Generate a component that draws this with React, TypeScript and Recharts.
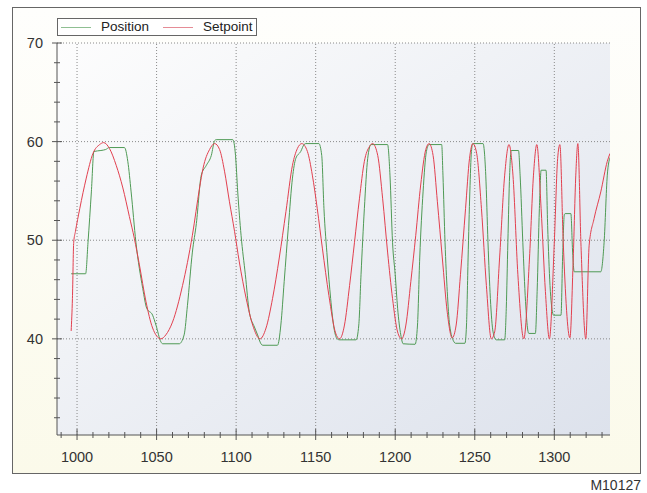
import { LineChart, Line, XAxis, YAxis, ReferenceLine, ReferenceArea } from "recharts";

// Setpoint (red)
const setpointTime = [
  996.3, 997.1, 997.9, 999, 1001.7, 1005.8, 1010, 1014.2, 1016.7, 1020.4, 1024.6, 1028.8, 1032.9, 1036,
  1039.2, 1043.3, 1047.5, 1052.7, 1055.8, 1060, 1066.3, 1072.5, 1077, 1079.2, 1083.3, 1086.5, 1089.6,
  1092.7, 1095.8, 1099, 1102, 1106.3, 1110.4, 1115, 1118.8, 1122.9, 1127.1, 1131.3, 1135.4, 1138.5,
  1141.3, 1144.8, 1147.9, 1151, 1154.2, 1158.3, 1162.5, 1165, 1168.1, 1171.3, 1174.4, 1177.5, 1180.6,
  1183.8, 1185.8, 1189, 1192.1, 1195.2, 1198.3, 1201.5, 1204, 1206.7, 1209.8, 1212.9, 1216, 1219.2,
  1221.3, 1223.8, 1226.5, 1229.6, 1232.7, 1235.8, 1238.3, 1241, 1244.2, 1246.7, 1248.8, 1251.2, 1254.2,
  1257.3, 1260.4, 1262.5, 1265.6, 1268.8, 1271.5, 1274, 1277.1, 1280.8, 1284.4, 1286.9, 1289, 1291.7,
  1294.4, 1296.9, 1300, 1302.1, 1303.5, 1305.6, 1309.8, 1311.9, 1313.5, 1314.8, 1316.7, 1319.8, 1321.9,
  1325, 1329.2, 1333.3, 1335,
];
const setpointValue = [
  40.8, 44.1, 49.8, 50.9, 53.2, 56.3, 58.8, 59.7, 59.9, 59.3, 57.6, 55.3, 52.4, 50.2,
  47.5, 43.8, 41.1, 40.0, 40.4, 41.7, 45.4, 50.5, 55.3, 57.3, 59.2, 59.8, 59.2,
  57.0, 53.9, 50.9, 47.8, 44.1, 41.4, 40.0, 41.1, 44.1, 48.2, 52.9, 57.6, 59.3,
  59.8, 59.0, 56.6, 53.2, 49.2, 44.4, 40.6, 40.0, 41.4, 45.4, 49.8, 54.2, 58.0,
  59.5, 59.8, 58.6, 54.2, 48.8, 44.1, 40.7, 40.0, 41.4, 45.8, 50.5, 55.6, 59.2,
  59.8, 58.6, 53.9, 48.2, 42.7, 40.1, 41.4, 46.5, 53.2, 58.3, 59.8, 58.8, 53.2,
  45.4, 40.0, 40.7, 48.2, 56.6, 59.7, 56.6, 46.5, 40.0, 48.2, 56.6, 59.7, 53.2,
  44.8, 40.0, 49.8, 58.3, 59.7, 49.8, 40.1, 48.2, 56.6, 59.8, 49.8, 40.0, 49.5,
  52.2, 54.9, 58.0, 58.8,
];

// Position (green)
const positionTime = [
  996.3, 1005.4, 1006.9, 1009, 1010.6, 1015, 1018, 1020.4, 1029.8, 1031.9, 1034, 1037, 1041.3, 1043.8,
  1047.5, 1049.6, 1052.7, 1053.8, 1064.2, 1067.3, 1069.4, 1072.5, 1075, 1078.1, 1081.3, 1084.4, 1086.5,
  1087.5, 1097.9, 1099.6, 1101, 1103.1, 1105.8, 1108.3, 1111.5, 1113.5, 1115.6, 1116.7, 1126, 1128.1,
  1130.2, 1132.9, 1135.4, 1137.5, 1140.6, 1142.7, 1143.8, 1152, 1153.8, 1155.2, 1157.3, 1159.4, 1161.5,
  1163.5, 1165, 1175.4, 1177.1, 1178.5, 1180.6, 1182.7, 1184.8, 1195.2, 1196.7, 1198.3, 1200, 1201.5,
  1203.5, 1205, 1212.5, 1214, 1215.4, 1217.5, 1219.6, 1221.3, 1229.2, 1230, 1231.3, 1232.7, 1234.2,
  1236.9, 1237.9, 1243.8, 1244.8, 1245.8, 1246.9, 1247.9, 1248.8, 1255.2, 1256.9, 1258.3, 1259.8, 1261.5,
  1263.5, 1268.8, 1269.8, 1270.8, 1271.9, 1272.9, 1277.5, 1278.5, 1280.2, 1281.9, 1283.3, 1284, 1288.1,
  1289.2, 1290.6, 1291.7, 1294.8, 1295.8, 1297.3, 1299, 1299.4, 1304.2, 1305.2, 1306.3, 1306.8, 1310.4,
  1311.5, 1312.5, 1329.2, 1331.3, 1333.3, 1335,
];
const positionValue = [
  46.6, 46.6, 49.8, 54.9, 59.0, 59.1, 59.2, 59.4, 59.4, 58.0, 54.9, 49.8, 45.1, 43.1,
  42.4, 41.4, 39.7, 39.5, 39.5, 40.4, 43.4, 48.8, 51.7, 56.6, 57.6, 58.6, 60.1,
  60.2, 60.2, 58.6, 54.9, 50.5, 46.5, 42.7, 41.2, 40.4, 39.5, 39.35, 39.35, 41.4,
  45.8, 51.5, 56.3, 58.3, 59.0, 59.7, 59.8, 59.8, 58.6, 53.2, 48.2, 44.1, 41.1,
  40.0, 39.9, 39.9, 41.4, 46.5, 53.2, 58.3, 59.7, 59.7, 56.6, 49.8, 46.5, 43.1,
  40.4, 39.5, 39.45, 41.4, 48.2, 54.9, 59.0, 59.7, 59.7, 56.6, 49.8, 44.8, 41.4,
  39.7, 39.55, 39.55, 41.4, 48.2, 54.9, 59.0, 59.8, 59.8, 56.6, 49.8, 44.1, 40.7,
  39.9, 39.9, 43.1, 49.8, 56.6, 59.1, 59.1, 56.6, 49.8, 43.8, 40.9, 40.55, 40.55,
  44.8, 53.2, 57.1, 57.1, 51.5, 45.4, 42.6, 42.4, 42.4, 48.2, 52.6, 52.7, 52.7,
  48.8, 46.8, 46.8, 49.8, 56.6, 58.4,
];

const xTicks = [
  990, 1000, 1010, 1020, 1030, 1040, 1050, 1060, 1070, 1080, 1090, 1100, 1110, 1120, 1130, 1140, 1150,
  1160, 1170, 1180, 1190, 1200, 1210, 1220, 1230, 1240, 1250, 1260, 1270, 1280, 1290, 1300, 1310, 1320, 1330,
];
const xGrid = [1000, 1050, 1100, 1150, 1200, 1250, 1300];
const yTicks = [32, 34, 36, 38, 40, 42, 44, 46, 48, 50, 52, 54, 56, 58, 60, 62, 64, 66, 68, 70];
const yGrid = [40, 50, 60, 70];

const setpointData = setpointTime.map((t, i) => ({ t, v: setpointValue[i] }));
const positionData = positionTime.map((t, i) => ({ t, v: positionValue[i] }));

const FONT = "'Liberation Sans', Arial, sans-serif";
const AXIS = "#555";
const LIGHT = "#9a9a9a";

const BottomTick = ({ x, y, payload }: any) => {
  const major = payload.value % 50 === 0;
  return (
    <g>
      <line x1={x} x2={x} y1={y - (major ? 6 : 3)} y2={y + (major ? 5 : 3)} stroke={AXIS} />
      {major && (
        <text x={x} y={y + 22} textAnchor="middle" dominantBaseline="central" fontSize={14.5} fill="#333" fontFamily={FONT}>
          {payload.value}
        </text>
      )}
    </g>
  );
};

const LeftTick = ({ x, y, payload }: any) => {
  const major = payload.value % 10 === 0;
  return (
    <g>
      <line x1={x - (major ? 5 : 3)} x2={x + (major ? 5 : 3)} y1={y} y2={y} stroke={AXIS} />
      {major && (
        <text x={x - 14} y={y} textAnchor="end" dominantBaseline="central" fontSize={14.5} fill="#333" fontFamily={FONT}>
          {payload.value}
        </text>
      )}
    </g>
  );
};

const TopTick = ({ x, y, payload }: any) => {
  const major = payload.value % 50 === 0;
  return <line x1={x} x2={x} y1={y} y2={y + (major ? 4 : 2)} stroke="#666" />;
};

const RightTick = ({ x, y, payload }: any) => {
  const major = payload.value % 10 === 0;
  return <line x1={x} x2={x - (major ? 4 : 2)} y1={y} y2={y} stroke="#666" />;
};

export default function App() {
  return (
    <div style={{ position: "absolute", left: 0, top: 0, width: 647, height: 493, background: "#fff", fontFamily: FONT }}>
      <div
        style={{
          position: "absolute",
          left: 12,
          top: 7,
          width: 627,
          height: 465,
          border: "1px solid #666",
          background: "linear-gradient(180deg, #fefefc 0%, #fbfaea 100%)",
        }}
      />
      <div style={{ position: "absolute", left: 0, top: 0 }}>
        <LineChart width={647} height={493} margin={{ top: 43, right: 37, bottom: 28, left: 12 }}>
          <defs>
            <linearGradient id="plotBg" x1="0" y1="0" x2="1" y2="1">
              <stop offset="0%" stopColor="#fdfdfd" />
              <stop offset="100%" stopColor="#dde2ec" />
            </linearGradient>
          </defs>
          <XAxis
            xAxisId="b"
            type="number"
            dataKey="t"
            domain={[987.4, 1335]}
            allowDataOverflow
            ticks={xTicks}
            interval={0}
            tickSize={0}
            tickMargin={0}
            height={30}
            axisLine={{ stroke: AXIS }}
            tickLine={false}
            tick={BottomTick}
          />
          <XAxis
            xAxisId="top"
            orientation="top"
            type="number"
            dataKey="t"
            domain={[987.4, 1335]}
            allowDataOverflow
            ticks={xTicks}
            interval={0}
            tickSize={0}
            tickMargin={0}
            height={0}
            axisLine={{ stroke: LIGHT }}
            tickLine={false}
            tick={TopTick}
          />
          <YAxis
            yAxisId="l"
            type="number"
            domain={[30.25, 70]}
            allowDataOverflow
            ticks={yTicks}
            interval={0}
            tickSize={0}
            tickMargin={0}
            width={45}
            axisLine={{ stroke: AXIS }}
            tickLine={false}
            tick={LeftTick}
          />
          <YAxis
            yAxisId="r"
            orientation="right"
            type="number"
            domain={[30.25, 70]}
            allowDataOverflow
            ticks={yTicks}
            interval={0}
            tickSize={0}
            tickMargin={0}
            width={0}
            axisLine={{ stroke: LIGHT }}
            tickLine={false}
            tick={RightTick}
          />
          <ReferenceArea
            xAxisId="b"
            yAxisId="l"
            x1={987.4}
            x2={1335}
            y1={30.25}
            y2={70}
            fill="url(#plotBg)"
            fillOpacity={1}
            stroke="none"
          />
          {xGrid.map((g) => (
            <ReferenceLine key={`x${g}`} xAxisId="b" yAxisId="l" x={g} stroke="#8a8a8a" strokeDasharray="1 2" />
          ))}
          {yGrid.map((g) => (
            <ReferenceLine key={`y${g}`} xAxisId="b" yAxisId="l" y={g} stroke="#8a8a8a" strokeDasharray="1 2" />
          ))}
          <Line
            xAxisId="b"
            yAxisId="l"
            data={positionData}
            dataKey="v"
            name="Position"
            type="monotone"
            stroke="#4f9a55"
            strokeWidth={1}
            dot={false}
            isAnimationActive={false}
          />
          <Line
            xAxisId="b"
            yAxisId="l"
            data={setpointData}
            dataKey="v"
            name="Setpoint"
            type="monotone"
            stroke="#e2404f"
            strokeWidth={1}
            dot={false}
            isAnimationActive={false}
          />
        </LineChart>
      </div>
      <div
        style={{
          position: "absolute",
          left: 57,
          top: 18,
          width: 198,
          height: 16,
          border: "1px solid #666",
          background: "#fff",
          display: "flex",
          alignItems: "center",
          fontSize: 13.5,
          color: "#222",
          lineHeight: "16px",
        }}
      >
        <span style={{ display: "inline-block", width: 30, height: 0, borderTop: "1px solid #8fbf92", marginLeft: 3 }} />
        <span style={{ marginLeft: 10 }}>Position</span>
        <span style={{ display: "inline-block", width: 30, height: 0, borderTop: "1px solid #e58c96", marginLeft: 14 }} />
        <span style={{ marginLeft: 10 }}>Setpoint</span>
      </div>
      <div
        style={{
          position: "absolute",
          right: 6,
          top: 478,
          fontSize: 14,
          color: "#333",
          lineHeight: "14px",
          whiteSpace: "nowrap",
        }}
      >
        M10127
      </div>
    </div>
  );
}
